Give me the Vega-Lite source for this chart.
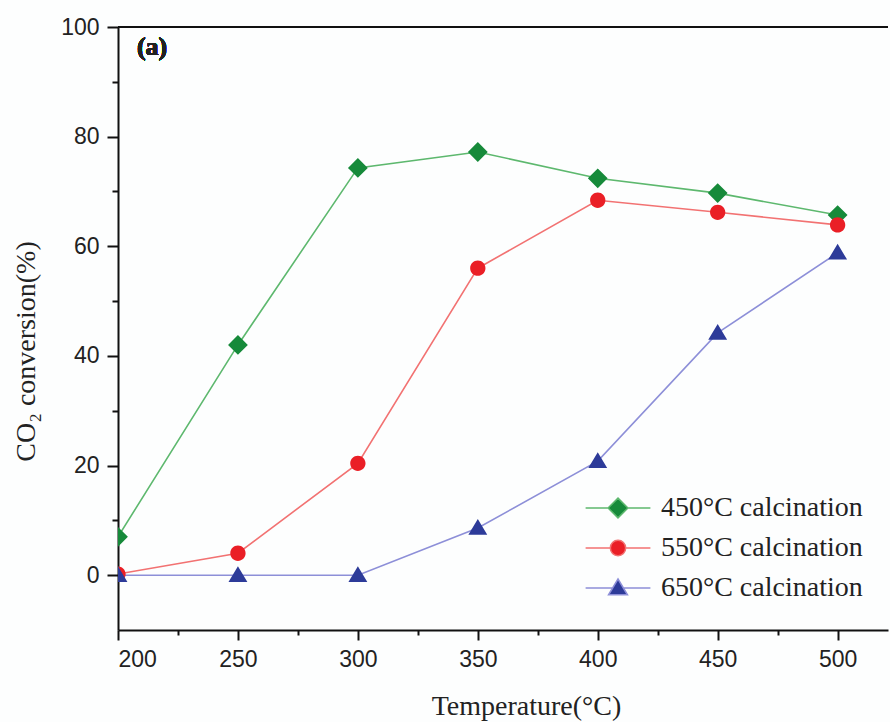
{
  "$schema": "https://vega.github.io/schema/vega-lite/v6.json",
  "autosize": {"type": "none"},
  "padding": {"left": 118, "top": 27, "right": 2, "bottom": 92},
  "width": 770,
  "height": 603,
  "background": "#fdfefe",
  "config": {
    "view": {"stroke": null},
    "axis": {
      "grid": false,
      "domainColor": "#111",
      "domainWidth": 2,
      "tickColor": "#111",
      "tickWidth": 2,
      "labelFont": "Liberation Sans",
      "labelFontSize": 23,
      "labelColor": "#222",
      "titleFont": "Liberation Serif",
      "titleFontSize": 28,
      "titleFontWeight": "normal",
      "titleColor": "#222"
    },
    "legend": {
      "orient": "none",
      "legendX": 464,
      "legendY": 467,
      "padding": 0,
      "labelFont": "Liberation Serif",
      "labelFontSize": 28,
      "labelLimit": 400,
      "labelColor": "#222",
      "symbolSize": 324,
      "symbolOffset": 22,
      "labelOffset": 29,
      "rowPadding": 12,
      "symbolStrokeWidth": 1.5
    }
  },
  "data": {
    "values": [
      {"T": 200, "conv": 7.0, "series": "450°C calcination"},
      {"T": 250, "conv": 42.0, "series": "450°C calcination"},
      {"T": 300, "conv": 74.3, "series": "450°C calcination"},
      {"T": 350, "conv": 77.2, "series": "450°C calcination"},
      {"T": 400, "conv": 72.4, "series": "450°C calcination"},
      {"T": 450, "conv": 69.7, "series": "450°C calcination"},
      {"T": 500, "conv": 65.7, "series": "450°C calcination"},
      {"T": 200, "conv": 0.2, "series": "550°C calcination"},
      {"T": 250, "conv": 4.0, "series": "550°C calcination"},
      {"T": 300, "conv": 20.4, "series": "550°C calcination"},
      {"T": 350, "conv": 56.0, "series": "550°C calcination"},
      {"T": 400, "conv": 68.4, "series": "550°C calcination"},
      {"T": 450, "conv": 66.2, "series": "550°C calcination"},
      {"T": 500, "conv": 63.9, "series": "550°C calcination"},
      {"T": 200, "conv": 0.0, "series": "650°C calcination"},
      {"T": 250, "conv": 0.0, "series": "650°C calcination"},
      {"T": 300, "conv": 0.0, "series": "650°C calcination"},
      {"T": 350, "conv": 8.6, "series": "650°C calcination"},
      {"T": 400, "conv": 20.8, "series": "650°C calcination"},
      {"T": 450, "conv": 44.2, "series": "650°C calcination"},
      {"T": 500, "conv": 58.8, "series": "650°C calcination"}
    ]
  },
  "encoding": {
    "x": {
      "field": "T",
      "type": "quantitative",
      "scale": {"domain": [200, 521], "nice": false, "zero": false},
      "axis": {
        "title": "Temperature(°C)",
        "values": [200, 225, 250, 275, 300, 325, 350, 375, 400, 425, 450, 475, 500],
        "labelExpr": "datum.value % 50 === 0 ? datum.label : ''",
        "tickSize": {"expr": "datum.value % 50 === 0 ? 10 : 5"},
        "labelPadding": 8,
        "titleX": 408,
        "titleY": 76,
        "titleBaseline": "middle",
        "titleAnchor": "middle"
      }
    },
    "y": {
      "field": "conv",
      "type": "quantitative",
      "scale": {"domain": [-10, 100], "nice": false},
      "axis": {
        "title": "CO₂ conversion(%)",
        "values": [0, 10, 20, 30, 40, 50, 60, 70, 80, 90, 100],
        "labelExpr": "datum.value % 20 === 0 ? datum.label : ''",
        "tickSize": {"expr": "datum.value % 20 === 0 ? 11 : 6"},
        "labelPadding": 8,
        "titleX": -92,
        "titleY": 324,
        "titleBaseline": "middle",
        "titleAnchor": "middle"
      }
    }
  },
  "layer": [
    {
      "mark": {"type": "rule", "color": "#111", "strokeWidth": 2},
      "encoding": {"y": {"datum": 100}, "x": {"datum": 200}, "x2": {"datum": 521}}
    },
    {
      "mark": {"type": "line", "strokeWidth": 1.6, "clip": true},
      "encoding": {
        "stroke": {
          "field": "series",
          "type": "nominal",
          "scale": {
            "domain": ["450°C calcination", "550°C calcination", "650°C calcination"],
            "range": ["#5db86e", "#f27272", "#8d8fd8"]
          },
          "legend": {"title": null}
        }
      }
    },
    {
      "mark": {"type": "point", "filled": true, "opacity": 1, "size": 324, "strokeWidth": 0, "clip": true},
      "encoding": {
        "fill": {
          "field": "series",
          "type": "nominal",
          "scale": {
            "domain": ["450°C calcination", "550°C calcination", "650°C calcination"],
            "range": ["#168a3a", "#ea1f26", "#2d3b99"]
          },
          "legend": {"title": null}
        },
        "shape": {
          "field": "series",
          "type": "nominal",
          "scale": {
            "domain": ["450°C calcination", "550°C calcination", "650°C calcination"],
            "range": [
              "M-3.6,0L-1.1,0M1.1,0L3.6,0M0,-1.1L1.1,0L0,1.1L-1.1,0Z",
              "M-3.6,0L-0.85,0M0.85,0L3.6,0M0.85,0A0.85,0.85,0,1,1,-0.85,0A0.85,0.85,0,1,1,0.85,0Z",
              "M-3.6,0L-0.6,0M0.6,0L3.6,0M0,-1L1.05,0.75L-1.05,0.75Z"
            ]
          },
          "legend": {"title": null}
        }
      }
    },
    {
      "mark": {
        "type": "text",
        "text": "(a)",
        "font": "Liberation Serif",
        "fontSize": 26,
        "fontWeight": "bold",
        "align": "left",
        "baseline": "middle",
        "color": "#222"
      },
      "encoding": {"x": {"datum": 207.9}, "y": {"datum": 96.4}}
    }
  ]
}
